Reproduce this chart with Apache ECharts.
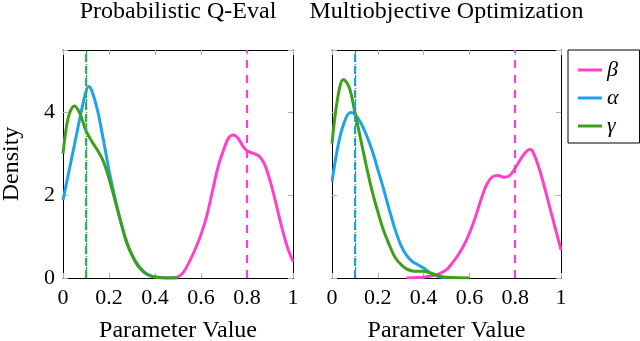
<!DOCTYPE html>
<html>
<head>
<meta charset="utf-8">
<script src="https://cdn.jsdelivr.net/npm/echarts@6/dist/echarts.min.js"></script>
<style>
html,body{margin:0;padding:0;background:#fff;}
#c{width:640px;height:341px;}
</style>
</head>
<body>
<div id="c"></div>
<script>
// ---- Data ----
const panelTitles = ['Probabilistic Q-Eval', 'Multiobjective Optimization'];
const seriesNames = ['\u03B2', '\u03B1', '\u03B3'];
const xTicks = [0, 0.2, 0.4, 0.6, 0.8, 1];
const yTicks = [0, 2, 4];

// Panel 1: Probabilistic Q-Eval
const p1BetaX = [0.44, 0.475, 0.5, 0.525, 0.55, 0.575, 0.6, 0.625, 0.65, 0.675, 0.7, 0.72, 0.74, 0.76, 0.78, 0.8, 0.825, 0.85, 0.875, 0.9, 0.925, 0.95, 0.975, 1.0];
const p1BetaY = [0, 0.005, 0.03, 0.15, 0.4, 0.7, 1.05, 1.5, 2.1, 2.7, 3.12, 3.38, 3.45, 3.38, 3.2, 3.07, 3.01, 2.95, 2.76, 2.35, 1.82, 1.25, 0.75, 0.4];
const p1AlphaX = [0, 0.025, 0.05, 0.075, 0.1, 0.112, 0.125, 0.15, 0.175, 0.2, 0.225, 0.25, 0.275, 0.3, 0.325, 0.35, 0.375, 0.4, 0.45, 0.5];
const p1AlphaY = [1.88, 2.55, 3.22, 3.9, 4.5, 4.62, 4.52, 4.05, 3.35, 2.6, 1.95, 1.38, 0.88, 0.55, 0.32, 0.16, 0.07, 0.03, 0.0, 0];
const p1GammaX = [0, 0.015, 0.03, 0.05, 0.075, 0.1, 0.125, 0.15, 0.175, 0.2, 0.225, 0.25, 0.275, 0.3, 0.325, 0.35, 0.375, 0.4, 0.45, 0.5];
const p1GammaY = [3.0, 3.65, 4.0, 4.15, 3.95, 3.55, 3.3, 3.08, 2.82, 2.4, 1.9, 1.38, 0.9, 0.55, 0.3, 0.15, 0.06, 0.02, 0.0, 0];

// Panel 2: Multiobjective Optimization
const p2BetaX = [0.325, 0.375, 0.4, 0.425, 0.45, 0.475, 0.5, 0.525, 0.55, 0.575, 0.6, 0.625, 0.65, 0.675, 0.7, 0.725, 0.75, 0.775, 0.8, 0.825, 0.85, 0.865, 0.875, 0.9, 0.925, 0.95, 0.975, 1.0];
const p2BetaY = [0, 0.01, 0.02, 0.04, 0.07, 0.12, 0.2, 0.36, 0.55, 0.78, 1.08, 1.45, 1.88, 2.25, 2.44, 2.47, 2.43, 2.47, 2.65, 2.88, 3.06, 3.1, 3.07, 2.72, 2.25, 1.72, 1.2, 0.68];
const p2AlphaX = [0, 0.025, 0.05, 0.08, 0.1, 0.125, 0.15, 0.175, 0.2, 0.225, 0.25, 0.275, 0.3, 0.325, 0.35, 0.375, 0.4, 0.425, 0.45, 0.475, 0.5];
const p2AlphaY = [2.32, 3.15, 3.7, 3.99, 3.95, 3.75, 3.45, 3.08, 2.62, 2.15, 1.65, 1.18, 0.8, 0.55, 0.4, 0.32, 0.24, 0.14, 0.07, 0.02, 0];
const p2GammaX = [0, 0.025, 0.05, 0.075, 0.1, 0.125, 0.15, 0.175, 0.2, 0.225, 0.25, 0.275, 0.3, 0.325, 0.35, 0.375, 0.4, 0.425, 0.45, 0.475, 0.5, 0.55, 0.6];
const p2GammaY = [3.24, 4.35, 4.79, 4.6, 4.0, 3.35, 2.7, 2.1, 1.6, 1.15, 0.8, 0.5, 0.33, 0.22, 0.17, 0.16, 0.16, 0.13, 0.08, 0.04, 0.02, 0.005, 0];

// reference (vertical) lines
const betaRef = 0.8;
const alphaRef = 0.1;
const gammaRef = 0.1;

// ---- Chart ----
const colors = {beta: '#ff40c8', alpha: '#1fa2ec', gamma: '#3f9f1a'};
const serif = 'Liberation Serif';
const grids = [
  {left: 63, top: 50, width: 230, height: 228, outerBoundsMode: 'none', containLabel: false},
  {left: 332, top: 50, width: 229, height: 228, outerBoundsMode: 'none', containLabel: false}
];
const pair = (xs, ys) => xs.map((x, i) => [x, ys[i]]);

const xAxes = [], yAxes = [];
grids.forEach((g, gi) => {
  const tick = {show: true, inside: true, length: 5, lineStyle: {color: '#b0b0b0', width: 1}};
  const line = {show: true, onZero: false, lineStyle: {color: '#000', width: 1}};
  xAxes.push({
    type: 'value', gridIndex: gi, min: 0, max: 1, interval: 0.2, position: 'bottom',
    axisLine: line, axisTick: tick, splitLine: {show: false},
    axisLabel: {color: '#000', fontFamily: serif, fontSize: 22, margin: 9,
      formatter: v => xTicks.some(t => Math.abs(t - v) < 1e-9) ? String(+v.toFixed(1)) : ''},
    name: 'Parameter Value', nameLocation: 'middle', nameGap: 41,
    nameTextStyle: {color: '#000', fontFamily: serif, fontSize: 24}
  });
  xAxes.push({
    type: 'value', gridIndex: gi, min: 0, max: 1, interval: 0.2, position: 'top',
    axisLine: line, axisTick: tick, splitLine: {show: false}, axisLabel: {show: false}
  });
  yAxes.push({
    type: 'value', gridIndex: gi, min: 0, max: 5.5, interval: 2, position: 'left',
    axisLine: line, axisTick: tick, splitLine: {show: false},
    axisLabel: {show: gi === 0, color: '#000', fontFamily: serif, fontSize: 22, margin: 8,
      formatter: v => yTicks.indexOf(v) >= 0 ? String(v) : ''},
    name: gi === 0 ? 'Density' : '', nameLocation: 'middle', nameGap: 39,
    nameTextStyle: {color: '#000', fontFamily: serif, fontSize: 24}
  });
  yAxes.push({
    type: 'value', gridIndex: gi, min: 0, max: 5.5, interval: 2, position: 'right',
    axisLine: line, axisTick: tick, splitLine: {show: false}, axisLabel: {show: false}
  });
});

function curve(name, color, data, gi, ref, dashType, refWidth, z) {
  return {
    name: name, type: 'line', xAxisIndex: gi * 2, yAxisIndex: gi * 2,
    data: data, smooth: 0.35, showSymbol: false, symbol: 'none',
    lineStyle: {color: color, width: 3}, itemStyle: {color: color},
    clip: true, animation: false,
    markLine: {
      silent: true, symbol: 'none', animation: false,
      label: {show: false},
      lineStyle: {color: color, width: refWidth, type: dashType, opacity: 1},
      emphasis: {disabled: true},
      data: [{xAxis: ref}]
    },
    z: z
  };
}

const series = [];
const panels = [
  [p1BetaX, p1BetaY, p1AlphaX, p1AlphaY, p1GammaX, p1GammaY],
  [p2BetaX, p2BetaY, p2AlphaX, p2AlphaY, p2GammaX, p2GammaY]
];
panels.forEach((p, gi) => {
  series.push(curve(seriesNames[0], colors.beta, pair(p[0], p[1]), gi, betaRef, [8, 7], 2.2, 2));
  series.push(curve(seriesNames[1], colors.alpha, pair(p[2], p[3]), gi, alphaRef, [8, 4], 2.2, 3));
  series.push(curve(seriesNames[2], colors.gamma, pair(p[4], p[5]), gi, gammaRef, [3, 2, 1, 2], 1.3, 4));
});

const chart = echarts.init(document.getElementById('c'), null, {renderer: 'canvas'});
chart.setOption({
  animation: false,
  backgroundColor: '#fff',
  title: panelTitles.map((t, i) => ({
    text: t, left: grids[i].left + grids[i].width / 2, top: 0, textAlign: 'center', padding: 0,
    textStyle: {color: '#000', fontFamily: serif, fontSize: 24, fontWeight: 'normal'}
  })),
  legend: {
    orient: 'vertical', left: 568, top: 50,
    padding: [9, 21, 6, 10], itemGap: 6,
    itemWidth: 24, itemHeight: 3, icon: 'rect',
    borderColor: '#000', borderWidth: 1,
    data: seriesNames,
    textStyle: {color: '#000', fontFamily: serif, fontStyle: 'italic', fontSize: 22}
  },
  grid: grids,
  xAxis: xAxes,
  yAxis: yAxes,
  series: series
});
</script>
</body>
</html>
